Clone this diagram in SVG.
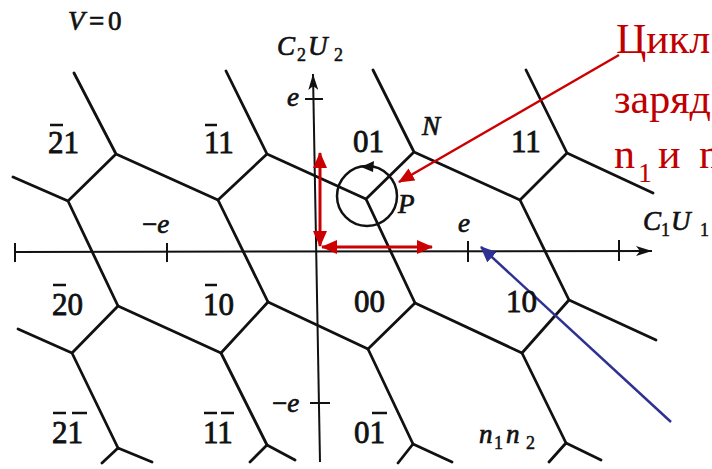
<svg xmlns="http://www.w3.org/2000/svg" width="712" height="469" viewBox="0 0 712 469">
<style>
.cell{fill:none;stroke:#111;stroke-width:2.8;stroke-linecap:round;stroke-linejoin:round}
.axis{fill:none;stroke:#111;stroke-width:2}
.bar{stroke:#111;stroke-width:2.5}
.num{font-family:"Liberation Serif","Times New Roman",serif;font-size:31px;fill:#111;stroke:#111;stroke-width:0.8}
.it{font-family:"Liberation Serif","Times New Roman",serif;font-style:italic;font-size:27px;fill:#111;stroke:#111;stroke-width:0.7}
.rm{font-family:"Liberation Serif","Times New Roman",serif;font-size:27px;fill:#111;stroke:#111;stroke-width:0.7}
.sub{font-family:"Liberation Serif","Times New Roman",serif;font-size:18px;fill:#111;stroke:#111;stroke-width:0.5}
.red{font-family:"Liberation Serif","Times New Roman",serif;font-size:42px;fill:#c00000}
</style>
<defs>
<marker id="blkax" viewBox="0 0 16 10" refX="16" refY="5" markerWidth="16" markerHeight="10" orient="auto" markerUnits="userSpaceOnUse"><path d="M0,0 L16,5 L0,10 L4,5 Z" fill="#111"/></marker>
<marker id="redh" viewBox="0 0 16 14" refX="15" refY="7" markerWidth="16" markerHeight="14" orient="auto-start-reverse" markerUnits="userSpaceOnUse"><path d="M0,0 L16,7 L0,14 Z" fill="#cc0000"/></marker>
<marker id="blueh" viewBox="0 0 16 14" refX="15" refY="7" markerWidth="16" markerHeight="14" orient="auto" markerUnits="userSpaceOnUse"><path d="M0,0 L16,7 L0,14 Z" fill="#2e3192"/></marker>
</defs>
<rect width="712" height="469" fill="#ffffff"/>

<g id="honeycomb">
<path class="cell" d="M74,73 L116,154 L218,200 M116,154 L68,201 M13,177 L68,201 L118,306"/>
<path class="cell" d="M226,71 L267,154 L366,199 M267,154 L218,200 L268,302"/>
<path class="cell" d="M373,70 L414,152 L520,200 M414,152 L366,199 L415,303"/>
<path class="cell" d="M526,70 L567,153 L653,193 M567,153 L520,200 L569,300"/>
<path class="cell" d="M118,306 L221,353 M118,306 L72,353 M18,329 L72,353 L118,448"/>
<path class="cell" d="M268,302 L368,349 M268,302 L221,353 L267,445"/>
<path class="cell" d="M415,303 L522,353 M415,303 L368,349 L413,444"/>
<path class="cell" d="M569,300 L656,340 M569,300 L522,353 L566,443"/>
<path class="cell" d="M102,463 L118,448 L152,462 M250,462 L267,445 L295,460 M398,463 L413,444 L452,462 M549,462 L566,443 L601,460"/>
</g>

<g id="axes">
<line class="axis" x1="15" y1="252" x2="652" y2="251" marker-end="url(#blkax)"/>
<line class="axis" x1="15" y1="243" x2="15" y2="262"/>
<line class="axis" x1="167" y1="243" x2="167" y2="262"/>
<line class="axis" x1="468" y1="241" x2="468" y2="262"/>
<line class="axis" x1="619" y1="240" x2="619" y2="261"/>
<line class="axis" x1="320" y1="462" x2="313" y2="74" marker-end="url(#blkax)"/>
<line class="axis" x1="305" y1="99" x2="323" y2="99"/>
<line class="axis" x1="310" y1="403" x2="330" y2="403"/>
</g>

<g id="cycle">
<circle cx="367" cy="196" r="30" fill="none" stroke="#111" stroke-width="2.5"/>
<path d="M361,167 L374,161 L373,172 Z" fill="#111"/>
</g>

<g id="connectors">
<line x1="320" y1="246" x2="320" y2="153" stroke="#cc0000" stroke-width="3" marker-start="url(#redh)" marker-end="url(#redh)"/>
<line x1="322" y1="247" x2="432" y2="247" stroke="#cc0000" stroke-width="3" marker-start="url(#redh)" marker-end="url(#redh)"/>
<line x1="619" y1="55" x2="399" y2="182" stroke="#cc0000" stroke-width="2.5" marker-end="url(#redh)"/>
<line x1="671" y1="422" x2="481" y2="247" stroke="#2e3192" stroke-width="2.5" marker-end="url(#blueh)"/>
</g>

<g id="labels">
<text x="68" y="30" class="it">V</text><text x="89" y="30" class="rm">=</text><text x="108" y="30" class="rm">0</text>
<text x="277" y="55" class="it">C</text><text x="297" y="61" class="sub">2</text>
<text x="308" y="55" class="it">U</text><text x="334" y="61" class="sub">2</text>
<text x="643" y="230" class="it">C</text><text x="661" y="236" class="sub">1</text>
<text x="671" y="230" class="it">U</text><text x="700" y="236" class="sub">1</text>
<text x="287" y="106" class="it">e</text>
<text x="142" y="233" class="rm">−<tspan class="it">e</tspan></text>
<text x="458" y="232" class="it">e</text>
<text x="272" y="412" class="rm">−<tspan class="it">e</tspan></text>
<text x="422" y="135" class="it" font-size="28">N</text>
<text x="398" y="213" class="it" font-size="28">P</text>
<text x="479" y="443" class="it">n</text><text x="494" y="449" class="sub">1</text>
<text x="506" y="443" class="it">n</text><text x="526" y="449" class="sub">2</text>
</g>

<g id="cell-labels">
<text x="48" y="153" class="num">21</text><line class="bar" x1="50" y1="125" x2="63" y2="125"/>
<text x="204" y="153" class="num">11</text><line class="bar" x1="205" y1="125" x2="217" y2="125"/>
<text x="353" y="152" class="num">01</text>
<text x="511" y="152" class="num">11</text>
<text x="52" y="315" class="num">20</text><line class="bar" x1="53" y1="285" x2="66" y2="285"/>
<text x="203" y="315" class="num">10</text><line class="bar" x1="205" y1="285" x2="217" y2="285"/>
<text x="354" y="312" class="num">00</text>
<text x="506" y="312" class="num">10</text>
<text x="52" y="443" class="num">21</text><line class="bar" x1="53" y1="413" x2="66" y2="413"/><line class="bar" x1="72" y1="413" x2="87" y2="413"/>
<text x="203" y="443" class="num">11</text><line class="bar" x1="204" y1="413" x2="217" y2="413"/><line class="bar" x1="221" y1="413" x2="234" y2="413"/>
<text x="354" y="443" class="num">01</text><line class="bar" x1="372" y1="413" x2="387" y2="413"/>
</g>

<g id="annotation">
<text x="616" y="53" class="red">Цикл</text>
<text x="614" y="113" class="red">заряд</text>
<text x="614" y="168" class="red">n<tspan x="638" y="182" font-size="28">1</tspan><tspan x="658" y="168">и</tspan><tspan x="699" y="168">n</tspan></text>
</g>
</svg>
